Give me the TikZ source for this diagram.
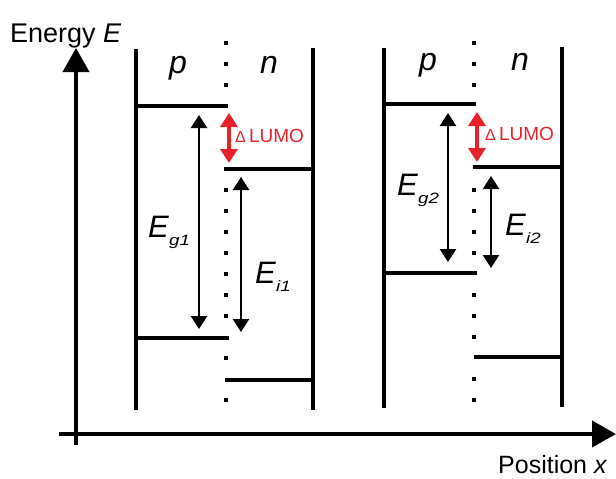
\documentclass[tikz,border=0pt]{standalone}
\usepackage{fontspec}
\setmainfont{Liberation Sans}
\usetikzlibrary{arrows.meta}
\definecolor{lumored}{RGB}{232,32,42}
\newcommand\elab[1]{\textit{E}\raisebox{-8pt}{\scalebox{1.25}[1]{\fontsize{15}{17}\selectfont\textit{#1}}}}
\begin{document}
\begin{tikzpicture}[x=1pt,y=-1pt,
  wall/.style={line width=4pt},
  level/.style={line width=4pt},
  axis/.style={line width=4pt,-{Triangle[width=26pt,length=24pt]}},
  gap/.style={line width=2.5pt,{Triangle[width=16pt,length=13pt]}-{Triangle[width=16pt,length=13pt]}},
  lumo/.style={draw=lumored,line width=3.5pt,{Triangle[width=17pt,length=14pt,fill=lumored]}-{Triangle[width=17pt,length=14pt,fill=lumored]}},
  dotsq/.style={fill=black},
  lbl/.style={font=\fontsize{31}{34}\selectfont, inner sep=0pt, anchor=base west},
  pn/.style={font=\fontsize{32}{34}\selectfont\itshape, inner sep=0pt, anchor=base},
  lumotxt/.style={text=lumored, font=\fontsize{19}{21}\selectfont, inner sep=0pt, anchor=base west},
  axtxt/.style={font=\fontsize{26}{28}\selectfont, inner sep=0pt, anchor=base west},
]
\useasboundingbox (0,0) rectangle (616,479);

% axes
\coordinate (yb) at (76,445); \coordinate (yt) at (76,48);
\draw[axis] (yb) -- (yt);
\coordinate (xl) at (59,434); \coordinate (xr) at (616,434);
\draw[axis] (xl) -- (xr);
\node[axtxt, font=\fontsize{27}{30}\selectfont] (elabel) at (10,42) {Energy \textit{E}};
\node[axtxt, font=\fontsize{25}{28}\selectfont] (xlabel) at (498,473) {Position \textit{x}};

% dotted interfaces
\foreach \y in {43,64,85,190,211,232,253,274,295,316,358,400}
  \fill[dotsq] (224,\y-2) rectangle (228,\y+2);
\foreach \y in {43,64,85,190,211,232,253,295,316,337,379,400}
  \fill[dotsq] (472,\y-2) rectangle (476,\y+2);

% ---------- panel 1 ----------
\coordinate (w1a) at (136,49); \coordinate (w1b) at (136,410);
\coordinate (w2a) at (313,48); \coordinate (w2b) at (313,410);
\draw[wall] (w1a) -- (w1b);
\draw[wall] (w2a) -- (w2b);
\coordinate (l1a) at (136,106); \coordinate (l1b) at (228,106);
\coordinate (l2a) at (224,169); \coordinate (l2b) at (313,169);
\coordinate (l3a) at (136,338); \coordinate (l3b) at (229,338);
\coordinate (l4a) at (225,380); \coordinate (l4b) at (313,380);
\draw[level] (l1a) -- (l1b);
\draw[level] (l2a) -- (l2b);
\draw[level] (l3a) -- (l3b);
\draw[level] (l4a) -- (l4b);
\coordinate (g1t) at (199,115); \coordinate (g1b) at (199,329);
\coordinate (i1t) at (241,177); \coordinate (i1b) at (241,332);
\draw[gap] (g1t) -- (g1b);
\draw[gap] (i1t) -- (i1b);
\coordinate (r1t) at (229,113); \coordinate (r1b) at (229,163);
\draw[lumo] (r1t) -- (r1b);
\node[pn] (p1) at (178,73) {p};
\node[pn] (n1) at (269,73) {n};
\node[lbl] (eg1) at (148,237) {\elab{g1}};
\node[lbl] (ei1) at (255,283) {\elab{i1}};
\node[lumotxt] (lu1) at (235,142) {{\fontsize{16}{18}\selectfont Δ}\,LUMO};

% ---------- panel 2 ----------
\coordinate (v1a) at (384,48); \coordinate (v1b) at (384,408);
\coordinate (v2a) at (562,47); \coordinate (v2b) at (562,407);
\draw[wall] (v1a) -- (v1b);
\draw[wall] (v2a) -- (v2b);
\coordinate (m1a) at (384,104); \coordinate (m1b) at (476,104);
\coordinate (m2a) at (473,167); \coordinate (m2b) at (562,167);
\coordinate (m3a) at (384,273); \coordinate (m3b) at (477,273);
\coordinate (m4a) at (474,357); \coordinate (m4b) at (562,357);
\draw[level] (m1a) -- (m1b);
\draw[level] (m2a) -- (m2b);
\draw[level] (m3a) -- (m3b);
\draw[level] (m4a) -- (m4b);
\coordinate (g2t) at (448,113); \coordinate (g2b) at (448,262);
\coordinate (i2t) at (491,176); \coordinate (i2b) at (491,268);
\draw[gap] (g2t) -- (g2b);
\draw[gap] (i2t) -- (i2b);
\coordinate (r2t) at (477,112); \coordinate (r2b) at (477,162);
\draw[lumo] (r2t) -- (r2b);
\node[pn] (p2) at (428,70) {p};
\node[pn] (n2) at (520,70) {n};
\node[lbl] (eg2) at (397,195) {\elab{g2}};
\node[lbl] (ei2) at (505,235) {\elab{i2}};
\node[lumotxt] (lu2) at (485,140) {{\fontsize{16}{18}\selectfont Δ}\,LUMO};
\end{tikzpicture}
\end{document}
